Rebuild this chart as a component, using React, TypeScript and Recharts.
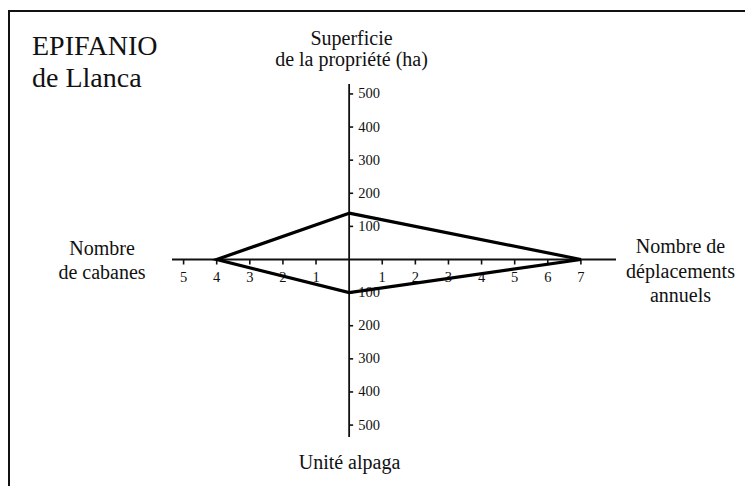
import { ScatterChart, Scatter, XAxis, YAxis, ReferenceLine } from "recharts";

// Star diagram values for one household
const AXIS_SUPERFICIE = "Superficie de la propriété (ha)";
const superficie = 140; // ha, upward
const deplacements = 7; // per year, rightward
const alpaga = 100; // alpaca units, downward
const cabanes = 4; // huts, leftward

// Tick values of each half-axis
const superficieTicks = [100, 200, 300, 400, 500];
const alpagaTicks = [100, 200, 300, 400, 500];
const cabanesTicks = [1, 2, 3, 4, 5];
const deplacementsTicks = [1, 2, 3, 4, 5, 6, 7];

const W = 745;
const H = 478;
const SERIF = "Liberation Serif";

// closed outline: top -> right -> bottom -> left -> top
const outline = [
  { x: 0, y: superficie },
  { x: deplacements, y: 0 },
  { x: 0, y: -alpaga },
  { x: -cabanes, y: 0 },
  { x: 0, y: superficie },
];

const hTicks = [
  ...cabanesTicks.map((v) => ({ x: -v, y: 0, label: v })),
  ...deplacementsTicks.map((v) => ({ x: v, y: 0, label: v })),
];
const vTicks = [
  ...superficieTicks.map((v) => ({ x: 0, y: v, label: v })),
  ...alpagaTicks.map((v) => ({ x: 0, y: -v, label: v })),
];

const HTick = (props: any) => {
  const { cx, cy, payload } = props;
  return (
    <g>
      <line x1={cx} y1={cy} x2={cx} y2={cy + 5} stroke="#111" strokeWidth={1.6} />
      <text x={cx} y={cy + 22} textAnchor="middle" fontSize={14.5} fontFamily={SERIF} fill="#111">
        {payload.label}
      </text>
    </g>
  );
};

const VTick = (props: any) => {
  const { cx, cy, payload } = props;
  return (
    <g>
      <line x1={cx} y1={cy} x2={cx + 4} y2={cy} stroke="#111" strokeWidth={1.6} />
      <text x={cx + 9} y={cy + 4.5} textAnchor="start" fontSize={14.5} fontFamily={SERIF} fill="#111">
        {payload.label}
      </text>
    </g>
  );
};

const Empty = () => <g />;

const label = (text: string[], left: number, top: number, width: number, lh: number) => (
  <div
    style={{
      position: "absolute",
      left,
      top,
      width,
      textAlign: "center",
      fontFamily: SERIF,
      fontSize: 20,
      lineHeight: `${lh}px`,
      color: "#111",
      whiteSpace: "nowrap",
    }}
  >
    {text.map((t) => (
      <div key={t}>{t}</div>
    ))}
  </div>
);

export default function App() {
  return (
    <div style={{ position: "relative", width: W, height: H, overflow: "hidden" }}>
      {/* frame, only top and left edges are visible */}
      <div
        style={{
          position: "absolute",
          left: 0,
          top: 2,
          width: W + 20,
          height: H + 20,
          borderTop: "2px solid #111",
          borderLeft: "2px solid #111",
        }}
      />
      <ScatterChart width={W} height={H} margin={{ top: 76, right: 137, bottom: 49, left: 164 }}>
        <XAxis type="number" dataKey="x" domain={[-5.35, 8.06]} hide allowDataOverflow />
        <YAxis type="number" dataKey="y" domain={[-536, 530]} hide allowDataOverflow />
        <ReferenceLine y={0} stroke="#111" strokeWidth={1.8} />
        <ReferenceLine x={0} stroke="#111" strokeWidth={1.8} />
        <Scatter data={hTicks} shape={HTick} isAnimationActive={false} />
        <Scatter data={vTicks} shape={VTick} isAnimationActive={false} />
        <Scatter
          name={AXIS_SUPERFICIE}
          data={outline}
          line={{ stroke: "#000", strokeWidth: 3.2 }}
          shape={Empty}
          isAnimationActive={false}
        />
      </ScatterChart>
      <div
        style={{
          position: "absolute",
          left: 24,
          top: 21.5,
          fontFamily: SERIF,
          fontSize: 28,
          lineHeight: "32px",
          color: "#111",
        }}
      >
        <div>EPIFANIO</div>
        <div>de Llanca</div>
      </div>
      {label(["Superficie", "de la propriété (ha)"], 243.5, 19.8, 200, 21.5)}
      {label(["Nombre", "de cabanes"], 24, 227.5, 140, 24)}
      {label(["Nombre de", "déplacements", "annuels"], 602.5, 226.3, 140, 24.5)}
      {label(["Unité alpaga"], 271.5, 442.3, 140, 24)}
    </div>
  );
}
